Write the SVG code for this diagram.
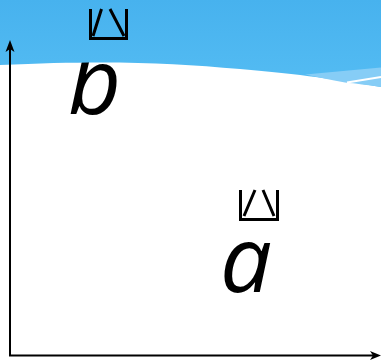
<svg xmlns="http://www.w3.org/2000/svg" width="381" height="362" viewBox="0 0 381 362">
<defs>
<linearGradient id="sky" x1="0" y1="0" x2="0" y2="1">
<stop offset="0" stop-color="#47b2ee"/>
<stop offset="1" stop-color="#54bcf3"/>
</linearGradient>
<style>
.var{font-family:"Open Sans",sans-serif;font-style:italic;font-size:92px;fill:#000}
.mark{fill:none;stroke:#000;stroke-width:3}
.axis{fill:none;stroke:#000;stroke-width:2}
</style>
</defs>
<rect width="381" height="362" fill="#fff"/>
<g id="node-b"><text class="var" x="68" y="114">b</text></g>
<g id="background">
<path d="M0,0 H381 V87 C340,80 300,74 240,69 C170,63 110,60 0,65 Z" fill="url(#sky)"/>
<path d="M305,74.5 L381,67.5 V87 C368,85 355,83.5 345,82.5 C330,80 318,77 305,74.5 Z" fill="#86cdf6"/>
<path d="M347,82.5 L381,77" stroke="#fff" stroke-width="1.8" fill="none"/>
</g>
<g id="mark-b"><path class="mark" d="M90.5,9 V38.5 H126.5 V9 M93,36 L101.5,9 M110,9 L124,36"/></g>
<g id="mark-a"><path class="mark" d="M240.5,190 V219.5 H277.5 V190 M244,216 L255,190 M263,190 L274,216"/></g>
<g id="node-a"><text class="var" x="220" y="292">a</text></g>
<g id="connectors">
<path class="axis" d="M10,356 V46"/>
<path d="M10,40 L14.5,52 L10,49 L5.5,52 Z" fill="#000"/>
<path class="axis" d="M9,355.5 H375"/>
<path d="M381,355.5 L370,351 L373,355.5 L370,360 Z" fill="#000"/>
</g>
</svg>
